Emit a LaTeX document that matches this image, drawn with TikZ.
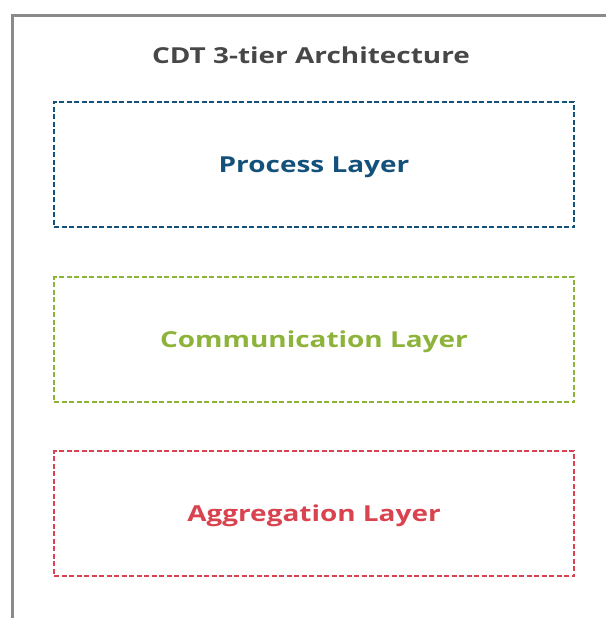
\documentclass[tikz,border=0pt]{standalone}
\usepackage{fontspec}
\setmainfont{Open Sans}[FakeStretch=1.27]
\usepackage{xcolor}
\usepackage{tikz}
\definecolor{procblue}{HTML}{14517A}
\definecolor{commgreen}{HTML}{8DB33A}
\definecolor{aggred}{HTML}{D9434F}
\definecolor{titlegray}{HTML}{474747}
\definecolor{framegray}{HTML}{8A8A8A}

\begin{document}
\begin{tikzpicture}[x=1pt,y=-1pt,
    layer/.style={line width=2pt, dash pattern=on 5pt off 2.5pt, line join=miter,
      minimum width=520pt, minimum height=125pt, inner sep=0pt},
    label/.style={font=\fontsize{22}{26}\selectfont\bfseries}]
    \useasboundingbox (0,0) rectangle (605,618);
    % outer frame, cut off at the right and bottom
    \draw[framegray, line width=3pt] (12.5,640) -- (12.5,15.5) -- (640,15.5);
    \node[label, text=titlegray] (T) at (311,55.5) {CDT 3-tier Architecture};
    \node[layer, draw=procblue] (P) at (314,164.5) {};
    \node[label, text=procblue] (PT) at (P.center) [yshift=-2.5pt] {Process Layer};
    \node[layer, draw=commgreen] (C) at (314,339.5) {};
    \node[label, text=commgreen] (CT) at (C.center) [yshift=-2.5pt] {Communication Layer};
    \node[layer, draw=aggred] (A) at (314,513.5) {};
    \node[label, text=aggred] (AT) at (A.center) [yshift=-2.5pt] {Aggregation Layer};
\end{tikzpicture}
\end{document}
